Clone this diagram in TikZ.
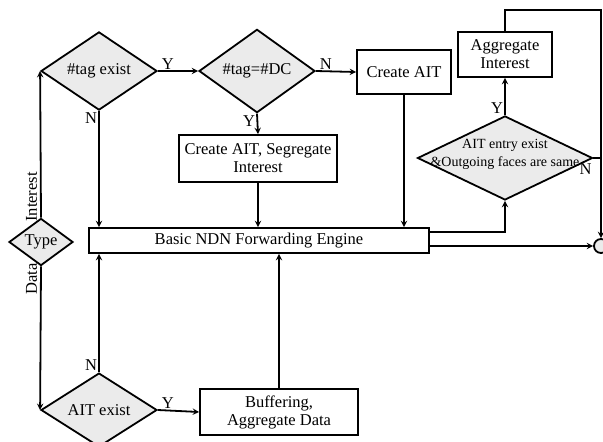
\documentclass[tikz,border=0pt]{standalone}
\usepackage{fontspec}
\setmainfont{Liberation Serif}
\usetikzlibrary{shapes.geometric}

\begin{document}
\begin{tikzpicture}[x=1pt,y=-1pt,line width=1.8pt,>=stealth,
  font=\fontsize{16.5}{18}\selectfont,
  box/.style={draw,fill=white,align=center,inner sep=0pt},
  dia/.style={draw,diamond,fill=black!8,inner sep=0pt,align=center},
  lab/.style={inner sep=1pt}]
\useasboundingbox (0,0) rectangle (603,442);
\node[dia,minimum width=64pt,minimum height=31pt](type) at (41,242){Type};
\node[dia,minimum width=116pt,minimum height=63pt](tagex) at (99,71){\#tag exist};
\node[dia,minimum width=116pt,minimum height=63pt](tagdc) at (257,71){\#tag=\#DC};
\node[box,minimum width=94pt,minimum height=44pt](crait) at (404,72){Create AIT};
\node[box,minimum width=94pt,minimum height=45pt](aggint) at (505,54.5){Aggregate\\Interest};
\node[dia,minimum width=175pt,minimum height=84pt](aitent) at (505,158){};
\node[align=center,font=\fontsize{14}{18}\selectfont](aitentT) at ([yshift=4pt]aitent){AIT entry exist\\\&Outgoing faces are same};
\node[box,minimum width=158pt,minimum height=47pt](segint) at (258,158.5){Create AIT, Segregate\\Interest};
\node[box,minimum width=340pt,minimum height=25pt](ndn) at (259,240.5){Basic NDN Forwarding Engine};
\node[dia,minimum width=116pt,minimum height=62pt](aitex) at (99,410){AIT exist};
\node[box,minimum width=158pt,minimum height=46pt](buf) at (279,412){Buffering,\\Aggregate Data};
\node[draw,circle,fill=black!8,minimum size=14pt,inner sep=0pt](out) at (601,246){};
\coordinate (topc) at (601,10);

\draw[->](type.north)--(tagex.west);
\draw[->](type.south)--(aitex.west);
\node[lab,rotate=90,anchor=south](intT) at (39,197){Interest};
\node[lab,rotate=90,anchor=south](dataT) at (39,279){Data};
\draw[->](tagex.east)--(tagdc.west)node[lab,pos=0.05,above right]{Y};
\draw[->](tagex.south)--(tagex.south|-ndn.north);\node[lab,below left] at (tagex.south){N};
\draw[->](tagdc.south)--(segint.north);\node[lab,below left] at (tagdc.south){Y};
\draw[->](segint.south)--(segint.south|-ndn.north);
\draw[->](tagdc.east)--(crait.west)node[lab,pos=0.05,above right]{N};
\draw[->](crait.south)--(crait.south|-ndn.north);
\draw[->]([yshift=8.5pt]ndn.east)-|(aitent.south);
\draw[->]([yshift=-5.5pt]ndn.east)--(out.west);
\draw[->](aitent.north)--(aggint.south);\node[lab,above left] at (aitent.north){Y};
\draw[->](aggint.north)|-(topc)--(out.north);
\draw(aitent.east)--(aitent.east-|out.north);\node[lab,below left] at ([xshift=0pt,yshift=-4pt]aitent.east){N};
\draw[->](aitex.north)--(aitex.north|-ndn.south);\node[lab,above left] at (aitex.north){N};
\draw[->](aitex.east)--(buf.west)node[lab,pos=0.05,above right]{Y};
\draw[->](buf.north)--(buf.north|-ndn.south);
\end{tikzpicture}
\end{document}
